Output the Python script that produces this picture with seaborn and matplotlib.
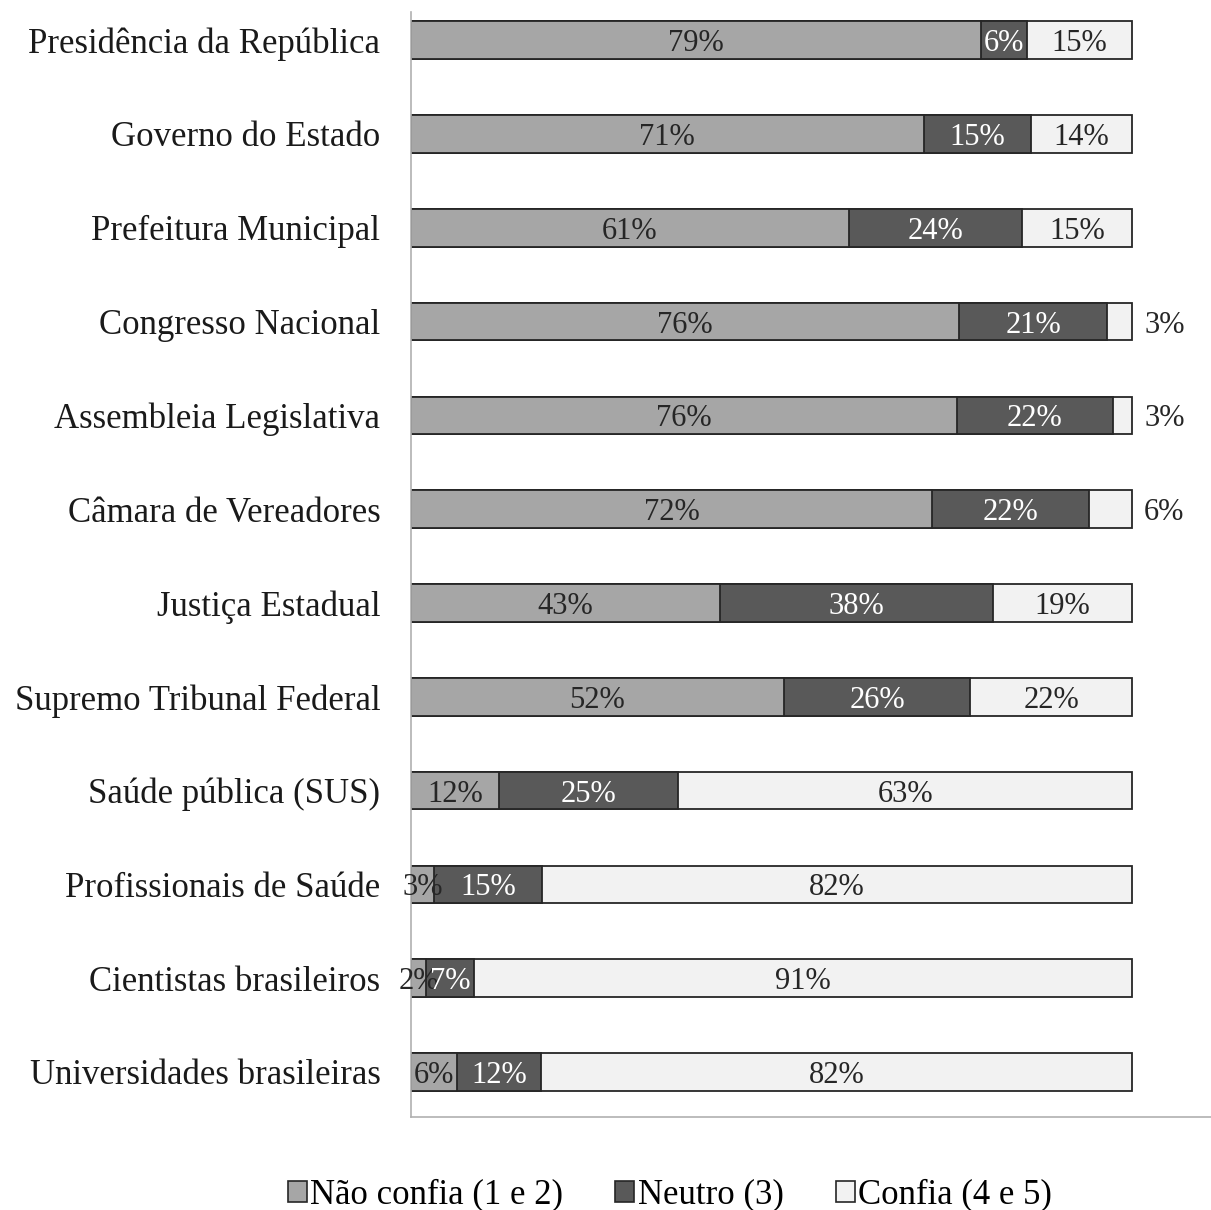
import matplotlib
matplotlib.use("Agg")
import matplotlib.pyplot as plt
import seaborn as sns
import pandas as pd
import numpy as np
from matplotlib.patches import Patch

categories = ["Presidência da República", "Governo do Estado", "Prefeitura Municipal",
              "Congresso Nacional", "Assembleia Legislativa", "Câmara de Vereadores",
              "Justiça Estadual", "Supremo Tribunal Federal", "Saúde pública (SUS)",
              "Profissionais de Saúde", "Cientistas brasileiros", "Universidades brasileiras"]
nao_confia = [79.0, 71.1, 60.7, 76.0, 75.7, 72.3, 42.8, 51.7, 12.2, 3.2, 2.1, 6.4]
neutro     = [6.4, 14.9, 24.1, 20.6, 21.7, 21.7, 38.0, 25.9, 24.9, 15.0, 6.7, 11.6]
confia     = [14.6, 14.0, 15.2, 3.4, 2.6, 6.0, 19.2, 22.4, 62.9, 81.8, 91.2, 82.0]
series_names = ["Não confia (1 e 2)", "Neutro (3)", "Confia (4 e 5)"]
colors = ["#a6a6a6", "#595959", "#f2f2f2"]
text_colors = ["#262626", "white", "#262626"]

plt.rcParams['font.family'] = ['Liberation Serif', 'DejaVu Serif']
FS = 25
FS_BAR = 22

df = pd.DataFrame({"cat": categories, "nao": nao_confia, "neu": neutro, "con": confia})
df["c1"] = df["nao"]
df["c2"] = df["nao"] + df["neu"]
df["c3"] = df["c2"] + df["con"]

fig = plt.figure(figsize=(12.11, 12.10), dpi=100)
ax = fig.add_axes([411/1211, 1 - 1117/1210, 1 - 411/1211, (1117 - 12)/1210])

edge = "#262626"
for col, c in zip(["c3", "c2", "c1"], [colors[2], colors[1], colors[0]]):
    sns.barplot(data=df, x=col, y="cat", orient="h", color=c, edgecolor=edge,
                linewidth=1.3, width=0.4, ax=ax, saturation=1)

# labels
segs = [nao_confia, neutro, confia]
for i in range(len(categories)):
    start = 0.0
    for k in range(3):
        v = segs[k][i]
        lab = f"{int(round(v))}%"
        if k == 2 and v < 10:
            ax.text(start + v + 1.7, i, lab, ha="left", va="center_baseline", fontsize=FS_BAR, color="#262626")
        else:
            ax.text(start + v / 2, i, lab, ha="center", va="center_baseline", fontsize=FS_BAR, color=text_colors[k])
        start += v

ax.set_xlim(0, (1210 - 411) / 7.2)
ax.set_ylim(11.48, -0.3)
ax.set_xlabel("")
ax.set_ylabel("")
ax.set_xticks([])
ax.tick_params(axis="y", length=0, pad=22, labelsize=FS, labelcolor="#1a1a1a")
for s in ["top", "right"]:
    ax.spines[s].set_visible(False)
for s in ["left", "bottom"]:
    ax.spines[s].set_color("#b0b0b0")
    ax.spines[s].set_linewidth(1.2)

handles = [Patch(facecolor=colors[k], edgecolor=edge, linewidth=1.2, label=series_names[k]) for k in range(3)]
fig.legend(handles=handles, loc="center", bbox_to_anchor=(670/1211, 1 - 1195/1210), ncol=3,
           frameon=False, fontsize=FS, handlelength=0.55, handleheight=0.55,
           handletextpad=0.1, columnspacing=1.5)

fig.savefig("out.png", dpi=100)
